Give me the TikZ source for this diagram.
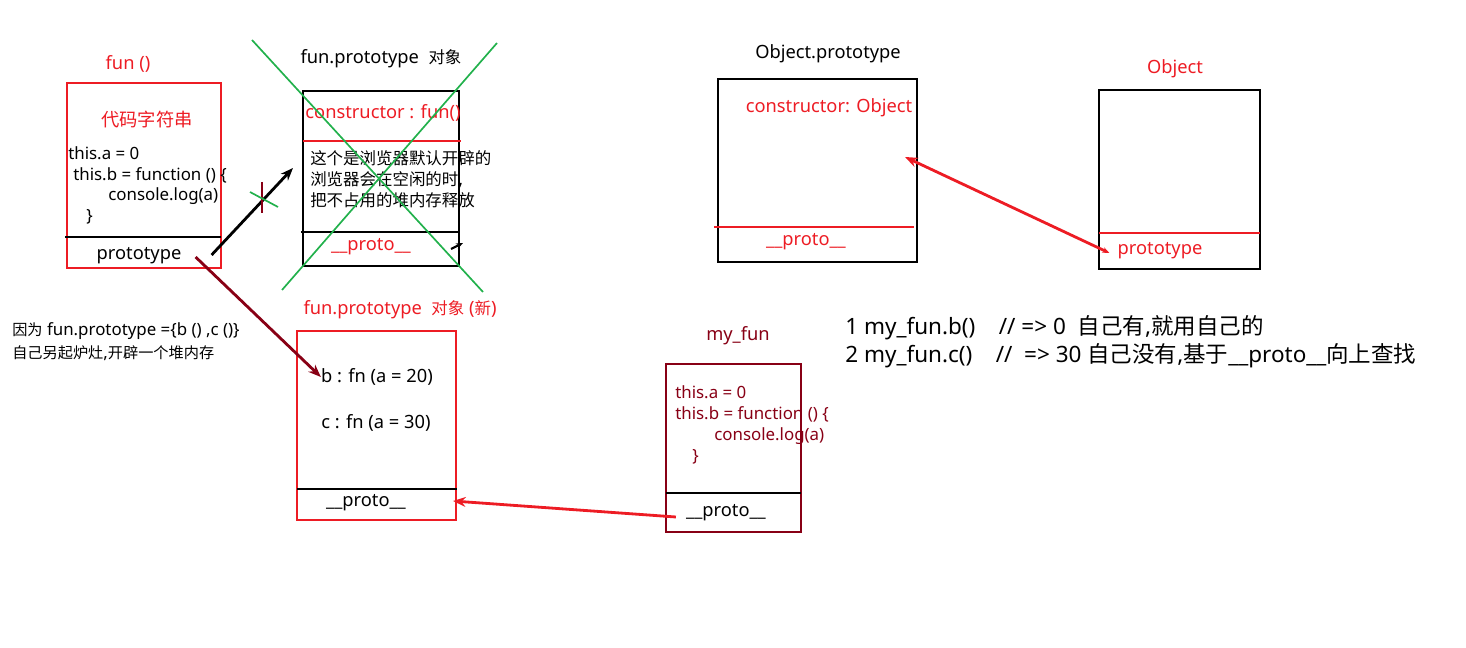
\documentclass[tikz,border=0pt]{standalone}
\usepackage{fontspec}
\setmainfont{Noto Sans}
\newfontfamily\cjk[Scale=0.9]{Noto Sans CJK SC}
\newfontfamily\cjkl{Noto Sans CJK SC}
\usetikzlibrary{arrows.meta}
\definecolor{pred}{RGB}{237,28,36}
\definecolor{pdark}{RGB}{136,0,21}
\definecolor{pgreen}{RGB}{34,177,76}
\newcommand\fsmall{\fontsize{12}{14}\selectfont}
\newcommand\fcode{\fontsize{12}{14}\selectfont}
\newcommand\fmid{\fontsize{13}{15}\selectfont}
\newcommand\fbig{\fontsize{16}{19}\selectfont}
\tikzset{
  box/.style={line width=1.3pt},
  sep/.style={line width=1.3pt},
  code/.style={anchor=west, font=\fcode},
  link/.style={line width=2pt,-{Stealth[length=9pt,width=7pt]}},
}
\begin{document}
\begin{tikzpicture}[x=0.025cm,y=-0.025cm]
        \tikzstyle{every node}=[font=\fmid, inner sep=0pt]
        \useasboundingbox (0,0) rectangle (1466,648);
        % fun ()
        \node[text=pred] (funname) at (128,64) {fun ()};
        \draw[box, pred] (67,83) rectangle (221,268);
        \node[text=pred] (funstr) at (147,120) {\cjkl 代码字符串};
        \node[code] (funa) at (68,153) {this.a = 0};
        \node[code] (funb) at (73,175) {this.b = function () \{};
        \node[code] (funlog) at (108,196) {console.log(a)};
        \node[code] (funend) at (86,217) {\}};
        \draw[sep] (65,237)-- (221,237);
        \node (funproto) at (139,256) {prototype};
        % fun.prototype (old)
        \node (oldname) at (381,59) {fun.prototype\ \ {\cjk 对象}};
        \draw[box] (303,91) rectangle (459,266);
        \node[text=pred] (oldctor) at (383,113) {constructor : fun()};
        \draw[sep, pred] (303,141)-- (461,141);
        \node[anchor=west] (oldl1) at (310,158) {\cjk 这个是浏览器默认开辟的};
        \node[anchor=west] (oldl2) at (310,180) {{\cjk 浏览器会在空闲的时},};
        \node[anchor=west] (oldl3) at (310,200) {\cjk 把不占用的堆内存释放};
        \draw[sep] (301,232)-- (458,232);
        \node[text=pred] (oldproto) at (371,247) {\_\_proto\_\_};
        \coordinate (oldtip) at (463,243);
        \draw[line width=1.5pt,-{Stealth[length=5pt,width=4pt]}] (451,249)-- (oldtip);
        \draw[pgreen, line width=1.2pt] (252,40)-- (483,292);
        \draw[pgreen, line width=1.2pt] (497,43)-- (282,290);
        % old link, crossed out
        \coordinate (oldin) at (293,168);
        \draw[link] (funproto.east) ++(30,-1) -- (oldin);
        \draw[pdark, line width=1.2pt] (262,182)-- (262,213);
        \draw[pgreen, line width=1.2pt] (250,192)-- (278,207);
        % fun.prototype (new)
        \node[text=pred] (newname) at (400,310) {fun.prototype\ \ {\cjk 对象} ({\cjk 新})};
        \draw[box, pred] (297,331) rectangle (456,520);
        \node (newb) at (377,377) {b : fn (a = 20)};
        \node (newc) at (376,423) {c : fn (a = 30)};
        \draw[sep] (297,489)-- (457,489);
        \node (newproto) at (366,503) {\_\_proto\_\_};
        \draw[link, pdark] (funproto.east) ++(14,1) -- (newb.west);
        \node[anchor=west, font=\fsmall] (note1) at (12,331) {{\cjk 因为} fun.prototype =\{b () ,c ()\}};
        \node[anchor=west, font=\fsmall] (note2) at (12,353) {{\cjk 自己另起炉灶},{\cjk 开辟一个堆内存}};
        % my_fun
        \node[text=pdark] (myname) at (738,336) {my\_fun};
        \draw[box, pdark] (666,364) rectangle (801,532);
        \node[code, text=pdark] (mya) at (675,392) {this.a = 0};
        \node[code, text=pdark] (myb) at (675,414) {this.b = function () \{};
        \node[code, text=pdark] (mylog) at (714,436) {console.log(a)};
        \node[code, text=pdark] (myend) at (692,457) {\}};
        \draw[sep] (666,493)-- (801,493);
        \node (myproto) at (726,513) {\_\_proto\_\_};
        \coordinate (newin) at (453,501);
        \draw[link, pred] (myproto.west) ++(-10,4) -- (newin);
        % Object.prototype
        \node (objpname) at (828,54) {Object.prototype};
        \draw[box] (718,79) rectangle (917,262);
        \node[text=pred] (objctor) at (829,108) {constructor: Object};
        \draw[sep, pred] (714,227)-- (914,227);
        \node[text=pred] (objpproto) at (806,242) {\_\_proto\_\_};
        % Object
        \node[text=pred] (objname) at (1175,69) {Object};
        \draw[box] (1099,90) rectangle (1260,269);
        \draw[sep, pred] (1099,233)-- (1260,233);
        \node[text=pred] (objproto) at (1160,251) {prototype};
        \coordinate (objin) at (905,157);
        \draw[link, pred, {Stealth[length=5pt,width=4pt]}-{Stealth[length=9pt,width=7pt]}] (objproto.west) ++(-8,2) -- (objin);
        % result
        \node[anchor=west, font=\fbig] (res1) at (845,328) {1 my\_fun.b()\ \ \ \ // => 0\ \ {\cjkl 自己有},{\cjkl 就用自己的}};
        \node[anchor=west, font=\fbig] (res2) at (845,356) {2 my\_fun.c()\ \ \ \ //\ \ => 30 {\cjkl 自己没有},{\cjkl 基于}\_\_proto\_\_{\cjkl 向上查找}};
    \end{tikzpicture}
\end{document}
